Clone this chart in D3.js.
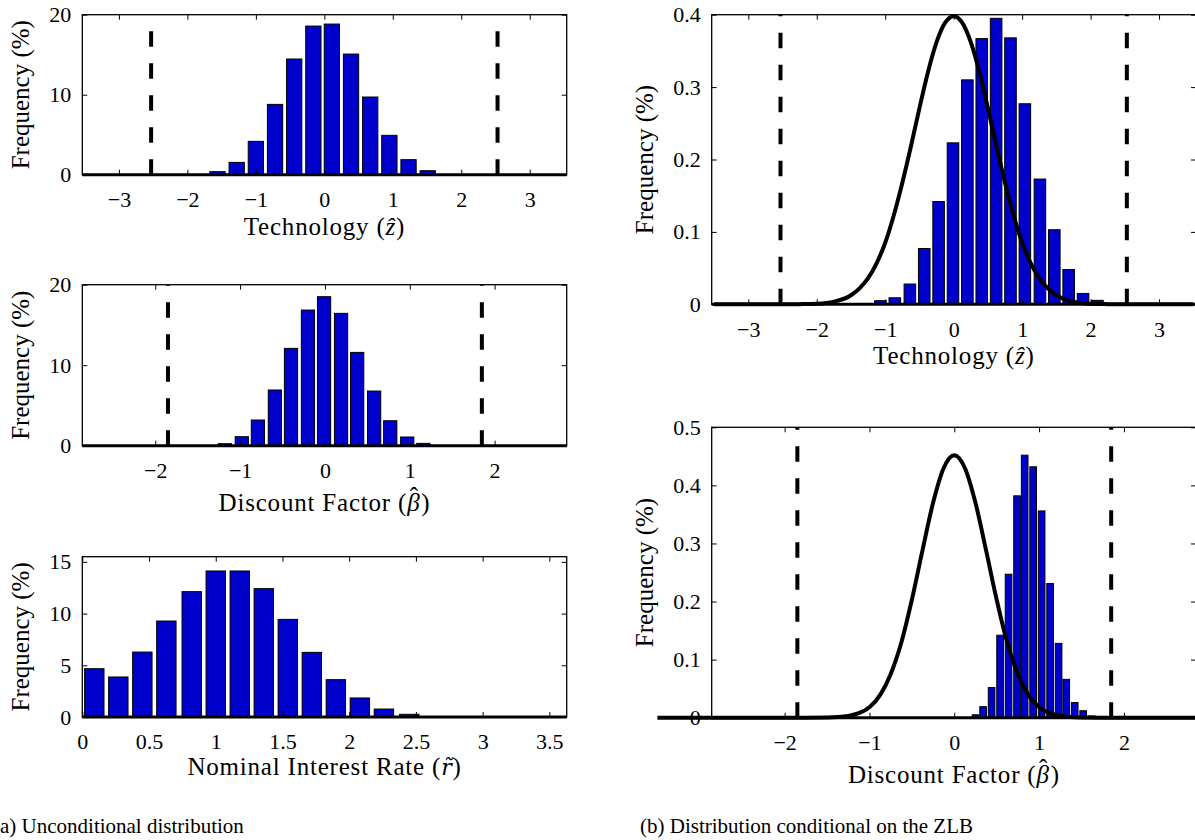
<!DOCTYPE html>
<html>
<head>
<meta charset="utf-8">
<script src="https://cdn.jsdelivr.net/npm/d3@7"></script>
<style>
  html, body { margin: 0; padding: 0; background: #fff; }
  svg { display: block; }
  text { font-family: "Liberation Serif", "Times New Roman", serif; fill: #000; }
</style>
</head>
<body>
<svg id="fig" width="1195" height="840"></svg>
<script>
// ---- Unconditional distributions (left column), frequency in % ----
const techBins = [-1.56, -1.28, -1.00, -0.72, -0.44, -0.16, 0.11, 0.39, 0.67, 0.95, 1.23, 1.51];
const techFreq = [0.38, 1.54, 4.17, 8.79, 14.46, 18.58, 18.83, 15.08, 9.71, 4.92, 1.88, 0.50];

const discBins = [-1.18, -0.98, -0.79, -0.59, -0.40, -0.20, -0.01, 0.19, 0.38, 0.58, 0.77, 0.97, 1.16];
const discFreq = [0.25, 1.12, 3.19, 6.92, 12.09, 16.85, 18.51, 16.44, 11.59, 6.79, 3.10, 1.08, 0.29];

const rateBins = [0.09, 0.27, 0.45, 0.63, 0.82, 1.00, 1.18, 1.36, 1.54, 1.72, 1.90, 2.08, 2.26, 2.45];
const rateFreq = [4.67, 3.87, 6.28, 9.28, 12.12, 14.12, 14.12, 12.41, 9.44, 6.25, 3.61, 1.84, 0.77, 0.26];

// ---- Distributions conditional on the ZLB (right column) ----
const techZlbBins = [-1.07, -0.86, -0.64, -0.43, -0.22, -0.01, 0.20, 0.41, 0.62, 0.83, 1.04, 1.26, 1.47, 1.68, 1.89, 2.10];
const techZlbFreq = [0.005, 0.009, 0.028, 0.077, 0.142, 0.223, 0.310, 0.367, 0.395, 0.368, 0.277, 0.173, 0.103, 0.048, 0.015, 0.0055];

const discZlbBins = [0.25, 0.34, 0.44, 0.54, 0.64, 0.74, 0.83, 0.93, 1.03, 1.13, 1.23, 1.32, 1.42, 1.52, 1.62];
const discZlbFreq = [0.005, 0.019, 0.052, 0.142, 0.247, 0.382, 0.452, 0.432, 0.356, 0.231, 0.128, 0.066, 0.026, 0.012, 0.003];

// Unconditional densities overlaid on the conditional histograms
const densityX = [-3.5, -3, -2.5, -2.25, -2, -1.75, -1.5, -1.375, -1.25, -1.125, -1, -0.875, -0.75, -0.625, -0.5, -0.375, -0.25, -0.125,
                  0, 0.125, 0.25, 0.375, 0.5, 0.625, 0.75, 0.875, 1, 1.125, 1.25, 1.375, 1.5, 1.75, 2, 2.25, 2.5, 3, 3.5];
const techDensity = [0, 0, 0, 0.0002, 0.0008, 0.0036, 0.0125, 0.022, 0.036, 0.057, 0.085, 0.123, 0.168, 0.218, 0.271, 0.321, 0.362, 0.389,
                     0.398, 0.389, 0.362, 0.321, 0.271, 0.218, 0.168, 0.123, 0.085, 0.057, 0.036, 0.022, 0.0125, 0.0036, 0.0008, 0.0002, 0, 0, 0];
const discDensity = [0, 0, 0, 0, 0, 0, 0.0003, 0.001, 0.003, 0.0078, 0.018, 0.039, 0.075, 0.129, 0.203, 0.288, 0.370, 0.430,
                     0.452, 0.430, 0.370, 0.288, 0.203, 0.129, 0.075, 0.039, 0.018, 0.0078, 0.003, 0.001, 0.0003, 0, 0, 0, 0, 0, 0];

// Ergodic bounds (dashed verticals)
const techBound = [-2.53, 2.53];
const discBound = [-1.85, 1.85];

// Tick values
const techTicks = [-3, -2, -1, 0, 1, 2, 3];
const discTicks = [-2, -1, 0, 1, 2];
const rateTicks = [0, 0.5, 1, 1.5, 2, 2.5, 3, 3.5];
const freqTicks20 = [0, 10, 20];
const freqTicks15 = [0, 5, 10, 15];
const probTicks04 = [0, 0.1, 0.2, 0.3, 0.4];
const probTicks05 = [0, 0.1, 0.2, 0.3, 0.4, 0.5];

const svg = d3.select("#fig");
const BAR_FILL = "#0000cd";
const fmt = d3.format("");

// math symbols of the axis titles
//  - precomposed or combining glyphs where the font places them well
//  - beta gets a spacing circumflex shifted over it
const symbols = {
  z: { text: "\u1E91" },
  beta: { text: "\u03B2", accent: "\u02C6", dx: -0.43, dy: -0.22, back: 0.1 },
  r: { text: "r\u0303", font: '"DejaVu Serif", serif', size: 22 }
};

function drawPanel(p) {
  const x = d3.scaleLinear().domain(p.xDomain).range([p.left, p.right]);
  const y = d3.scaleLinear().domain(p.yDomain).range([p.bottom, p.top]);
  const g = svg.append("g");

  // histogram bars
  const n = p.bins.length;
  const step = (p.bins[n - 1] - p.bins[0]) / (n - 1);
  const half = 0.4 * step;
  g.append("g").selectAll("rect")
    .data(p.bins.map((b, i) => ({ b, v: p.freq[i] })))
    .join("rect")
    .attr("x", d => x(d.b - half))
    .attr("width", d => x(d.b + half) - x(d.b - half))
    .attr("y", d => y(d.v))
    .attr("height", d => y(0) - y(d.v))
    .attr("fill", BAR_FILL)
    .attr("stroke", "#000")
    .attr("stroke-width", 1);

  // density overlay
  if (p.density) {
    const line = d3.line()
      .x((d, i) => x(densityX[i]))
      .y(d => y(d))
      .curve(d3.curveMonotoneX);
    g.append("path")
      .datum(p.density)
      .attr("d", line)
      .attr("fill", "none")
      .attr("stroke", "#000")
      .attr("stroke-width", 4)
      .attr("stroke-linejoin", "round");
  }

  // bounds, dashed from the baseline upward
  p.bounds.forEach(bv => {
    g.append("line")
      .attr("x1", x(bv)).attr("x2", x(bv))
      .attr("y1", y(0)).attr("y2", y(p.yDomain[1]))
      .attr("stroke", "#000")
      .attr("stroke-width", 4)
      .attr("stroke-dasharray", "15.5,16.5");
  });

  // heavy zero line
  g.append("line")
    .attr("x1", x(p.xDomain[0])).attr("x2", x(p.xDomain[1]))
    .attr("y1", y(0)).attr("y2", y(0))
    .attr("stroke", "#000").attr("stroke-width", 3);

  // axes with inward ticks on all four sides
  const styleAxis = sel => {
    sel.select(".domain").remove();
    sel.selectAll("line").attr("stroke", "#000").attr("stroke-width", 1);
    sel.selectAll("text")
      .attr("font-family", '"Liberation Serif", "Times New Roman", serif')
      .attr("font-size", 22)
      .attr("fill", "#000");
    sel.attr("font-family", null).attr("font-size", null);
  };

  g.append("g").attr("transform", `translate(0,${p.bottom})`)
    .call(d3.axisBottom(x).tickValues(p.xTicks).tickSizeInner(-5).tickSizeOuter(0).tickPadding(p.xPad).tickFormat(fmt))
    .call(styleAxis);
  g.append("g").attr("transform", `translate(0,${p.top})`)
    .call(d3.axisTop(x).tickValues(p.xTicks).tickSizeInner(-5).tickSizeOuter(0).tickFormat(""))
    .call(styleAxis);
  g.append("g").attr("transform", `translate(${p.left},0)`)
    .call(d3.axisLeft(y).tickValues(p.yTicks).tickSizeInner(-5).tickSizeOuter(0).tickPadding(11).tickFormat(fmt))
    .call(styleAxis);
  g.append("g").attr("transform", `translate(${p.right},0)`)
    .call(d3.axisRight(y).tickValues(p.yTicks).tickSizeInner(-5).tickSizeOuter(0).tickFormat(""))
    .call(styleAxis);

  // frame
  g.append("rect")
    .attr("x", p.left).attr("y", p.top)
    .attr("width", p.right - p.left).attr("height", p.bottom - p.top)
    .attr("fill", "none").attr("stroke", "#000").attr("stroke-width", 1.3);

  // x-axis title with its math symbol
  const s = symbols[p.symbol];
  const t = g.append("text")
    .attr("x", (p.left + p.right) / 2)
    .attr("y", p.bottom + p.titleOffset)
    .attr("text-anchor", "middle")
    .attr("font-size", 25)
    .attr("letter-spacing", 0.8);
  t.append("tspan").text(p.title + " (");
  const sym = t.append("tspan").attr("font-style", "italic").text(s.text);
  if (s.font) sym.attr("font-family", s.font).attr("font-size", s.size);
  if (s.accent) {
    t.append("tspan").attr("dx", s.dx + "em").attr("dy", s.dy + "em").text(s.accent);
    t.append("tspan").attr("dx", s.back + "em").attr("dy", (-s.dy) + "em").text(")");
  } else {
    t.append("tspan").text(")");
  }

  // y-axis title
  g.append("text")
    .attr("transform", `translate(${p.ylabelX},${(p.top + p.bottom) / 2}) rotate(-90)`)
    .attr("text-anchor", "middle")
    .attr("font-size", 25)
    .text("Frequency (%)");
}

// left column
drawPanel({
  left: 82.3, right: 566.7, top: 14.7, bottom: 174.7,
  xDomain: [-3.535, 3.54], yDomain: [0, 20],
  xTicks: techTicks, yTicks: freqTicks20, xPad: 17,
  bins: techBins, freq: techFreq, bounds: techBound,
  title: "Technology", symbol: "z", titleOffset: 60, ylabelX: 29
});
drawPanel({
  left: 82.3, right: 566.7, top: 284.7, bottom: 445.7,
  xDomain: [-2.86, 2.85], yDomain: [0, 20],
  xTicks: discTicks, yTicks: freqTicks20, xPad: 17,
  bins: discBins, freq: discFreq, bounds: discBound,
  title: "Discount Factor", symbol: "beta", titleOffset: 65, ylabelX: 29
});
drawPanel({
  left: 82.3, right: 566.7, top: 556.7, bottom: 717,
  xDomain: [0, 3.63], yDomain: [0, 15.5],
  xTicks: rateTicks, yTicks: freqTicks15, xPad: 16,
  bins: rateBins, freq: rateFreq, bounds: [],
  title: "Nominal Interest Rate", symbol: "r", titleOffset: 58, ylabelX: 29
});

// right column
drawPanel({
  left: 711.7, right: 1196, top: 14.7, bottom: 304.3,
  xDomain: [-3.535, 3.54], yDomain: [0, 0.4],
  xTicks: techTicks, yTicks: probTicks04, xPad: 17,
  bins: techZlbBins, freq: techZlbFreq, bounds: techBound, density: techDensity,
  title: "Technology", symbol: "z", titleOffset: 60, ylabelX: 653
});
drawPanel({
  left: 711.7, right: 1196, top: 427.3, bottom: 717.7,
  xDomain: [-2.86, 2.85], yDomain: [0, 0.5],
  xTicks: discTicks, yTicks: probTicks05, xPad: 17,
  bins: discZlbBins, freq: discZlbFreq, bounds: discBound, density: discDensity,
  title: "Discount Factor", symbol: "beta", titleOffset: 65, ylabelX: 653
});

// sub-figure captions
svg.append("text").attr("x", 0).attr("y", 833).attr("font-size", 21)
  .text("a) Unconditional distribution");
svg.append("text").attr("x", 640).attr("y", 833).attr("font-size", 21)
  .text("(b) Distribution conditional on the ZLB");
</script>
</body>
</html>
